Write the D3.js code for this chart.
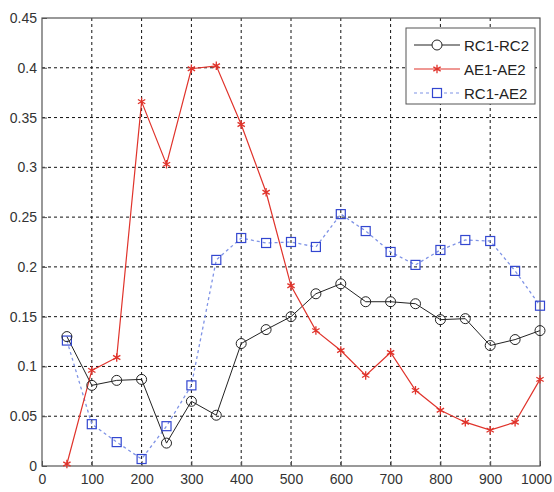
<!DOCTYPE html>
<html>
<head>
<meta charset="utf-8">
<script src="https://cdn.jsdelivr.net/npm/d3@7"></script>
<style>
  body { margin: 0; background: #fff; }
  text { font-family: "Liberation Sans", Arial, sans-serif; }
</style>
</head>
<body>
<svg id="chart" width="554" height="492"></svg>
<script>
var xValues = [50, 100, 150, 200, 250, 300, 350, 400, 450, 500, 550, 600, 650, 700, 750, 800, 850, 900, 950, 1000];
var rc1rc2 = [0.130, 0.081, 0.086, 0.087, 0.023, 0.065, 0.051, 0.123, 0.137, 0.150, 0.173, 0.183, 0.165, 0.165, 0.163, 0.147, 0.148, 0.121, 0.127, 0.136];
var ae1ae2 = [0.002, 0.096, 0.109, 0.366, 0.303, 0.399, 0.402, 0.343, 0.275, 0.181, 0.136, 0.116, 0.091, 0.114, 0.076, 0.056, 0.044, 0.036, 0.044, 0.087];
var rc1ae2 = [0.126, 0.042, 0.024, 0.007, 0.040, 0.081, 0.207, 0.229, 0.224, 0.225, 0.220, 0.253, 0.236, 0.215, 0.202, 0.217, 0.227, 0.226, 0.196, 0.161];
var seriesNames = ["RC1-RC2", "AE1-AE2", "RC1-AE2"];
var xTicks = [0, 100, 200, 300, 400, 500, 600, 700, 800, 900, 1000];
var yTicks = [0, 0.05, 0.1, 0.15, 0.2, 0.25, 0.3, 0.35, 0.4, 0.45];

var margin = {top: 18, right: 14, bottom: 26, left: 42};
var width = 554 - margin.left - margin.right;
var height = 492 - margin.top - margin.bottom;

var svg = d3.select("#chart");
var g = svg.append("g")
  .attr("transform", "translate(" + margin.left + "," + margin.top + ")");

var x = d3.scaleLinear().domain([0, 1000]).range([0, width]);
var y = d3.scaleLinear().domain([0, 0.45]).range([height, 0]);

// grid
g.selectAll(".vgrid")
  .data(xTicks.slice(1, -1))
  .enter().append("line")
  .attr("x1", d => x(d)).attr("x2", d => x(d))
  .attr("y1", 0).attr("y2", height)
  .attr("stroke", "#111").attr("stroke-width", 1)
  .attr("stroke-dasharray", "3,3");

g.selectAll(".hgrid")
  .data(yTicks.slice(1, -1))
  .enter().append("line")
  .attr("x1", 0).attr("x2", width)
  .attr("y1", d => y(d)).attr("y2", d => y(d))
  .attr("stroke", "#111").attr("stroke-width", 1)
  .attr("stroke-dasharray", "3,3");

// axes
var xAxis = d3.axisBottom(x).tickValues(xTicks).tickSize(-5).tickPadding(8).tickFormat(d3.format("d"));
var yAxis = d3.axisLeft(y).tickValues(yTicks).tickSize(-5).tickPadding(5).tickFormat(d => d === 0 ? "0" : String(d));

var gx = g.append("g").attr("transform", "translate(0," + height + ")").call(xAxis);
var gy = g.append("g").call(yAxis);
[gx, gy].forEach(function (a) {
  a.select(".domain").remove();
  a.selectAll("line").attr("stroke", "#555");
  a.selectAll("text").attr("font-size", 14).attr("fill", "#333");
});
// keep the last x label inside the picture
gx.selectAll("text").filter(d => d === 1000).attr("dx", -4);

// frame
g.append("rect")
  .attr("width", width).attr("height", height)
  .attr("fill", "none").attr("stroke", "#555").attr("stroke-width", 1.2);

var line = d3.line().x(d => x(d[0])).y(d => y(d[1]));

function pts(vals) { return xValues.map((v, i) => [v, vals[i]]); }

// RC1-AE2 blue dashed
g.append("path")
  .datum(pts(rc1ae2))
  .attr("fill", "none").attr("stroke", "#7f93e6").attr("stroke-width", 1.3)
  .attr("stroke-dasharray", "3,3")
  .attr("d", line);

// RC1-RC2 black solid
g.append("path")
  .datum(pts(rc1rc2))
  .attr("fill", "none").attr("stroke", "#222").attr("stroke-width", 1)
  .attr("d", line);

// AE1-AE2 red
g.append("path")
  .datum(pts(ae1ae2))
  .attr("fill", "none").attr("stroke", "#e0332b").attr("stroke-width", 1.2)
  .attr("d", line);

var star = d3.symbol().type(d3.symbolAsterisk).size(50);

function drawSquares(sel, data) {
  sel.selectAll(null).data(data).enter().append("rect")
    .attr("x", d => x(d[0]) - 4.5).attr("y", d => y(d[1]) - 4.5)
    .attr("width", 9).attr("height", 9)
    .attr("fill", "none").attr("stroke", "#3347d0").attr("stroke-width", 1.2);
}
function drawCircles(sel, data) {
  sel.selectAll(null).data(data).enter().append("circle")
    .attr("cx", d => x(d[0])).attr("cy", d => y(d[1])).attr("r", 5)
    .attr("fill", "none").attr("stroke", "#222").attr("stroke-width", 1);
}
function drawStars(sel, data) {
  sel.selectAll(null).data(data).enter().append("path")
    .attr("d", star)
    .attr("transform", d => "translate(" + x(d[0]) + "," + y(d[1]) + ")")
    .attr("fill", "#e0332b").attr("stroke", "#e0332b").attr("stroke-width", 1.3);
}

drawSquares(g.append("g"), pts(rc1ae2));
drawCircles(g.append("g"), pts(rc1rc2));
drawStars(g.append("g"), pts(ae1ae2));

// legend
var lg = svg.append("g").attr("transform", "translate(406,28)");
lg.append("rect").attr("width", 129).attr("height", 76)
  .attr("fill", "#fff").attr("stroke", "#555").attr("stroke-width", 1);

var legendRows = [
  {name: seriesNames[0], color: "#222", dash: null, marker: "circle"},
  {name: seriesNames[1], color: "#e0332b", dash: null, marker: "star"},
  {name: seriesNames[2], color: "#7f93e6", dash: "3,3", marker: "square"}
];
legendRows.forEach(function (r, i) {
  var yy = 17 + i * 24;
  lg.append("line").attr("x1", 8).attr("x2", 54).attr("y1", yy).attr("y2", yy)
    .attr("stroke", r.color).attr("stroke-width", 1.2)
    .attr("stroke-dasharray", r.dash);
  if (r.marker === "circle") {
    lg.append("circle").attr("cx", 31).attr("cy", yy).attr("r", 5)
      .attr("fill", "#fff").attr("stroke", "#222");
  } else if (r.marker === "star") {
    lg.append("path").attr("d", star).attr("transform", "translate(31," + yy + ")")
      .attr("fill", "#e0332b").attr("stroke", "#e0332b").attr("stroke-width", 1.3);
  } else {
    lg.append("rect").attr("x", 26.5).attr("y", yy - 4.5).attr("width", 9).attr("height", 9)
      .attr("fill", "#fff").attr("stroke", "#3347d0").attr("stroke-width", 1.2);
  }
  lg.append("text").attr("x", 58).attr("y", yy + 5.5).attr("font-size", 15).attr("fill", "#222")
    .text(r.name);
});
</script>
</body>
</html>
